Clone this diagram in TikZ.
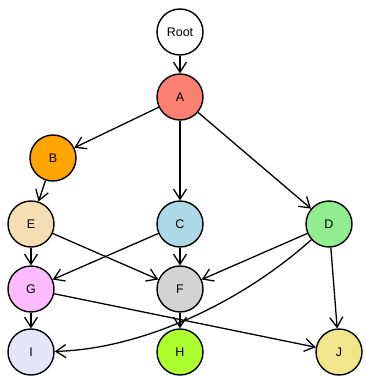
\documentclass[tikz,border=0pt]{standalone}
\usepackage{fontspec}
\setmainfont{Liberation Sans}
\usetikzlibrary{arrows.meta,backgrounds}
\definecolor{cA}{HTML}{FA8072}
\definecolor{cB}{HTML}{FFA500}
\definecolor{cC}{HTML}{ADD8E6}
\definecolor{cD}{HTML}{90EE90}
\definecolor{cE}{HTML}{F5DEB3}
\definecolor{cF}{HTML}{D3D3D3}
\definecolor{cG}{HTML}{FFBBFF}
\definecolor{cH}{HTML}{ADFF2F}
\definecolor{cI}{HTML}{E6E6FA}
\definecolor{cJ}{HTML}{F0E68C}
\tikzset{
  nd/.style={circle, draw=black, line width=1.4pt, minimum size=46pt, inner sep=0pt, font=\fontsize{12.5}{14}\selectfont},
  ed/.style={line width=1.3pt, -{Straight Barb[length=10pt,width=13pt,line width=1.3pt]}}
}
\begin{document}
\begin{tikzpicture}[x=1pt,y=-1pt]
\useasboundingbox (0,0) rectangle (365,377);
\node[nd, fill=white] (root) at (180,32) {Root};
\node[nd, fill=cA] (A) at (180,97) {A};
\node[nd, fill=cB] (B) at (53,158) {B};
\node[nd, fill=cE] (E) at (31,224) {E};
\node[nd, fill=cC] (C) at (180,224) {C};
\node[nd, fill=cD] (D) at (329,224) {D};
\node[nd, fill=cG] (G) at (31,289) {G};
\node[nd, fill=cF] (F) at (180,289) {F};
\node[nd, fill=cI] (I) at (31,352) {I};
\node[nd, fill=cH] (H) at (180,352) {H};
\node[nd, fill=cJ] (J) at (339,352) {J};
\coordinate (q1) at (236.3,306.7);
\coordinate (q2) at (137,349.3);
\begin{scope}[on background layer]
\draw[ed] (root) -- (A);
\draw[ed] (A) -- (B);
\draw[ed] (A) -- (C);
\draw[ed] (A) -- (D);
\draw[ed] (B) -- (E);
\draw[ed] (E) -- (G);
\draw[ed] (E) -- (F);
\draw[ed] (C) -- (G);
\draw[ed] (C) -- (F);
\draw[ed] (D) -- (F);
\draw[ed] (D) .. controls (q1) and (q2) .. (I);
\draw[ed] (D) -- (J);
\draw[ed] (G) -- (I);
\draw[ed] (G) -- (J);
\draw[ed] (F) -- (H);
\end{scope}
\end{tikzpicture}
\end{document}
